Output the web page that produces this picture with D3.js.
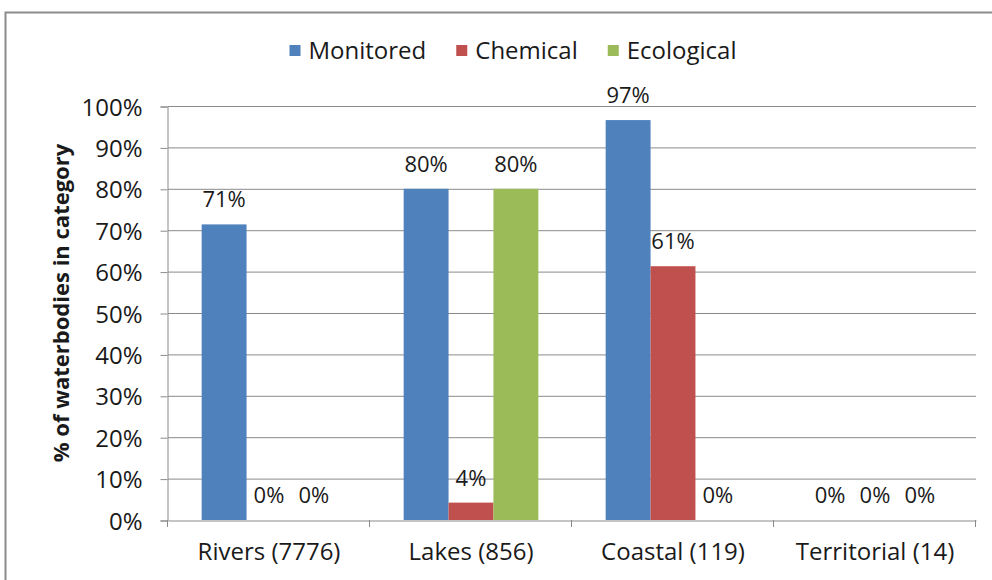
<!DOCTYPE html>
<html><head><meta charset="utf-8">
<script src="https://cdn.jsdelivr.net/npm/d3@7"></script>
<style>body{margin:0;background:#fff}svg{display:block}text{font-family:"Open Sans",sans-serif;fill:#1a1a1a}</style>
</head><body><svg id="c" width="992" height="580"></svg>
<script>
const categories = ["Rivers (7776)", "Lakes (856)", "Coastal (119)", "Territorial (14)"];
const seriesNames = ["Monitored", "Chemical", "Ecological"];
const monitored = [71.4, 80, 96.6, 0];
const chemical = [0, 4.2, 61.3, 0];
const ecological = [0, 80, 0, 0];
const yTicks = [0, 10, 20, 30, 40, 50, 60, 70, 80, 90, 100];
const colors = ["#4F81BD", "#C0504D", "#9BBB59"];
const yTitle = "% of waterbodies in category";

const series = [monitored, chemical, ecological];
const svg = d3.select("#c");
const m = {l: 168, r: 976, t: 106, b: 520};

svg.append("rect").attr("x", 5.5).attr("y", 12.5).attr("width", 1000).attr("height", 600)
  .attr("fill", "none").attr("stroke", "#8c8c8c").attr("stroke-width", 2);

const x0 = d3.scaleBand().domain(categories).range([m.l, m.r]).paddingInner(0).paddingOuter(0);
const x1 = d3.scaleBand().domain(seriesNames).range([0, x0.bandwidth()]).paddingOuter(0.75).paddingInner(0);
const y = d3.scaleLinear().domain([0, 100]).range([m.b, m.t]);

// gridlines
svg.append("g").selectAll("line").data(yTicks.filter(d => d > 0)).join("line")
  .attr("x1", m.l).attr("x2", m.r).attr("y1", d => y(d) + 0.5).attr("y2", d => y(d) + 0.5)
  .attr("stroke", "#8a8a8a").attr("stroke-width", 1);

// y axis
const ya = svg.append("g").attr("transform", `translate(${m.l - 0.5},0.5)`)
  .call(d3.axisLeft(y).tickValues(yTicks).tickFormat(d => d + "%").tickSize(7).tickPadding(18));
ya.selectAll("path,line").attr("stroke", "#8a8a8a");
ya.selectAll("text").attr("font-size", 24).attr("font-family", "Open Sans").attr("dy", "0.36em");

// x axis
const xa = svg.append("g").attr("transform", `translate(0,${m.b + 0.5})`)
  .call(d3.axisBottom(x0).tickSize(0).tickPadding(22));
xa.select("path").attr("stroke", "#8a8a8a");
xa.selectAll("text").attr("font-size", 24).attr("font-family", "Open Sans");
svg.append("g").selectAll("line").data(d3.range(categories.length + 1)).join("line")
  .attr("x1", i => Math.round(m.l + i * x0.bandwidth()) - 0.5)
  .attr("x2", i => Math.round(m.l + i * x0.bandwidth()) - 0.5)
  .attr("y1", m.b).attr("y2", m.b + 7).attr("stroke", "#8a8a8a");

// bars
const flat = [];
categories.forEach((c, ci) => seriesNames.forEach((s, si) => flat.push({c, s, si, v: series[si][ci]})));
svg.append("g").selectAll("rect").data(flat).join("rect")
  .attr("x", d => x0(d.c) + x1(d.s))
  .attr("width", x1.bandwidth())
  .attr("y", d => y(d.v))
  .attr("height", d => y(0) - y(d.v))
  .attr("fill", d => colors[d.si]);

// labels
svg.append("g").selectAll("text").data(flat).join("text")
  .attr("x", d => x0(d.c) + x1(d.s) + x1.bandwidth() / 2)
  .attr("y", d => y(d.v) - 17)
  .attr("text-anchor", "middle")
  .attr("font-size", 22)
  .text(d => Math.round(d.v) + "%");

// y title
svg.append("text").attr("transform", `translate(69,${(m.t + m.b) / 2 - 10}) rotate(-90)`)
  .attr("text-anchor", "middle").attr("font-size", 22).attr("font-weight", "bold").text(yTitle);

// legend
const lg = svg.append("g");
const items = lg.selectAll("g").data(seriesNames).join("g");
items.append("rect").attr("width", 11).attr("height", 11).attr("y", 45).attr("fill", (d, i) => colors[i]);
items.append("text").attr("x", 19).attr("y", 59).attr("font-size", 24).text(d => d);
const widths = items.nodes().map(n => n.getBBox().width);
const gap = 30;
const total = d3.sum(widths) + gap * (widths.length - 1);
let cx = 513 - total / 2;
items.attr("transform", (d, i) => { const t = `translate(${cx},0)`; cx += widths[i] + gap; return t; });
</script></body></html>
